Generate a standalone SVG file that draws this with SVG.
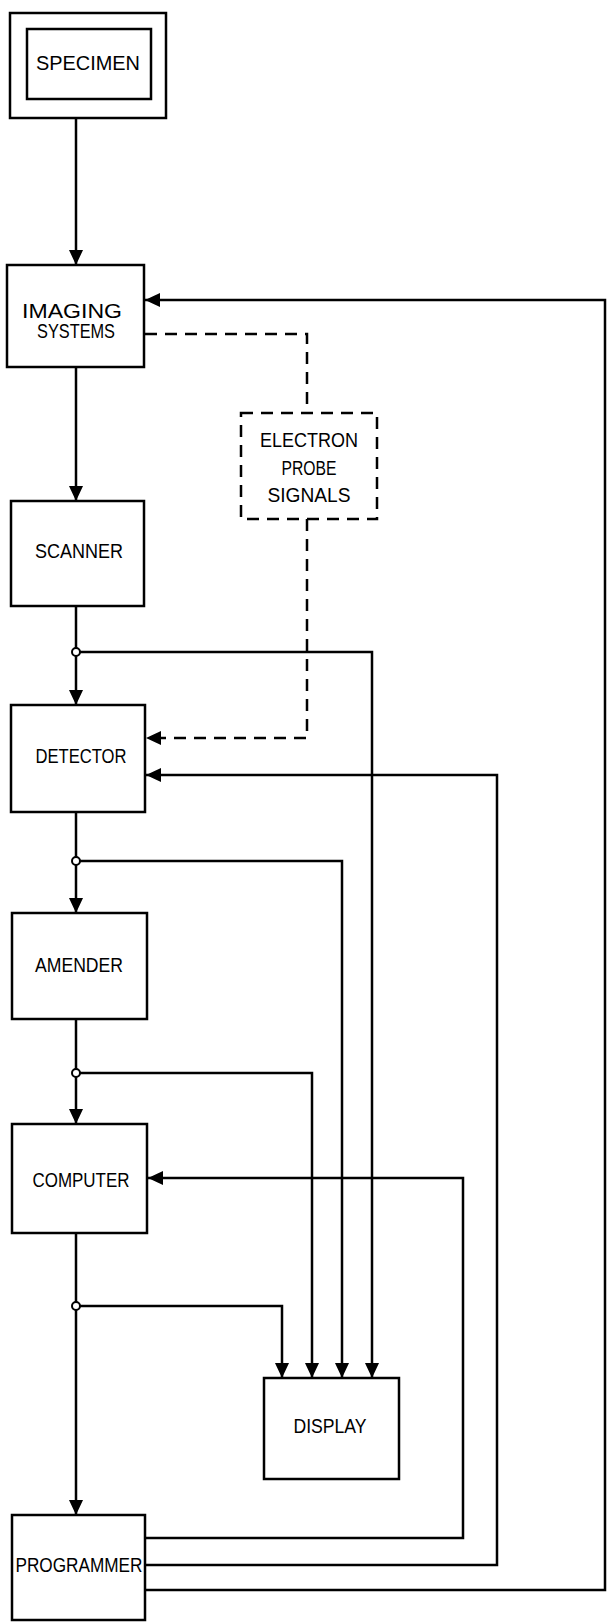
<svg xmlns="http://www.w3.org/2000/svg" width="613" height="1622" viewBox="0 0 613 1622">
<style>
.box{fill:#fff;stroke:#000;stroke-width:2.5}
.dbox{fill:#fff;stroke:#000;stroke-width:2.5;stroke-dasharray:12,8}
.ln{fill:none;stroke:#000;stroke-width:2.5}
.dl{fill:none;stroke:#000;stroke-width:2.5;stroke-dasharray:12,8}
.jn{fill:#fff;stroke:#000;stroke-width:2}
text{font-family:"Liberation Sans",Arial,sans-serif;font-size:20px;fill:#000;text-anchor:middle}
</style>
<defs>
<marker id="ah" markerUnits="userSpaceOnUse" markerWidth="16" markerHeight="14" refX="15" refY="7" orient="auto">
<path d="M0,0 L15,7 L0,14 z" fill="#000"/>
</marker>
</defs>
<rect width="613" height="1622" fill="#fff"/>
<g id="connectors">
<path class="ln" d="M76,118 V265" marker-end="url(#ah)"/>
<path class="ln" d="M145,1590 H605 V300 H145" marker-end="url(#ah)"/>
<path class="dl" d="M145,334 H307 V413"/>
<path class="dl" d="M307,519 V738 H146" marker-end="url(#ah)"/>
<path class="ln" d="M76,367 V501" marker-end="url(#ah)"/>
<path class="ln" d="M76,606 V705" marker-end="url(#ah)"/>
<path class="ln" d="M80,652 H372 V1378" marker-end="url(#ah)"/>
<path class="ln" d="M76,812 V913" marker-end="url(#ah)"/>
<path class="ln" d="M80,861 H342 V1378" marker-end="url(#ah)"/>
<path class="ln" d="M76,1019 V1124" marker-end="url(#ah)"/>
<path class="ln" d="M80,1073 H312 V1378" marker-end="url(#ah)"/>
<path class="ln" d="M76,1233 V1515" marker-end="url(#ah)"/>
<path class="ln" d="M80,1306 H282 V1378" marker-end="url(#ah)"/>
<path class="ln" d="M145,1538 H463 V1178 H148" marker-end="url(#ah)"/>
<path class="ln" d="M145,1565 H497 V775 H146" marker-end="url(#ah)"/>
<circle class="jn" cx="76" cy="652" r="4"/>
<circle class="jn" cx="76" cy="861" r="4"/>
<circle class="jn" cx="76" cy="1073" r="4"/>
<circle class="jn" cx="76" cy="1306" r="4"/>
</g>
<g id="specimen">
<rect class="box" x="10" y="13" width="156" height="105"/>
<rect class="box" x="27" y="29" width="124" height="70"/>
<text x="88" y="70" font-size="21" textLength="104" lengthAdjust="spacingAndGlyphs">SPECIMEN</text>
</g>
<g id="imaging">
<rect class="box" x="7" y="265" width="137" height="102"/>
<text x="72" y="318" textLength="100" lengthAdjust="spacingAndGlyphs">IMAGING</text>
<text x="76" y="338" textLength="78" lengthAdjust="spacingAndGlyphs">SYSTEMS</text>
</g>
<g id="electron">
<rect class="dbox" x="241" y="413" width="136" height="106"/>
<text x="309" y="447" textLength="98" lengthAdjust="spacingAndGlyphs">ELECTRON</text>
<text x="309" y="475" textLength="55" lengthAdjust="spacingAndGlyphs">PROBE</text>
<text x="309" y="502" textLength="83" lengthAdjust="spacingAndGlyphs">SIGNALS</text>
</g>
<g id="scanner">
<rect class="box" x="11" y="501" width="133" height="105"/>
<text x="79" y="558" textLength="88" lengthAdjust="spacingAndGlyphs">SCANNER</text>
</g>
<g id="detector">
<rect class="box" x="11" y="705" width="134" height="107"/>
<text x="81" y="763" textLength="91" lengthAdjust="spacingAndGlyphs">DETECTOR</text>
</g>
<g id="amender">
<rect class="box" x="12" y="913" width="135" height="106"/>
<text x="79" y="972" textLength="88" lengthAdjust="spacingAndGlyphs">AMENDER</text>
</g>
<g id="computer">
<rect class="box" x="12" y="1124" width="135" height="109"/>
<text x="81" y="1187" textLength="97" lengthAdjust="spacingAndGlyphs">COMPUTER</text>
</g>
<g id="display">
<rect class="box" x="264" y="1378" width="135" height="101"/>
<text x="330" y="1433" textLength="73" lengthAdjust="spacingAndGlyphs">DISPLAY</text>
</g>
<g id="programmer">
<rect class="box" x="12" y="1515" width="133" height="105"/>
<text x="79" y="1572" textLength="127" lengthAdjust="spacingAndGlyphs">PROGRAMMER</text>
</g>
</svg>
